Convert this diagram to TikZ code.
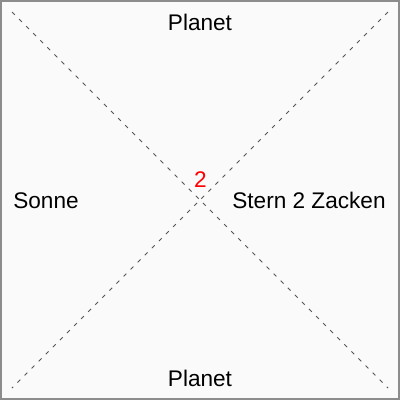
\documentclass[tikz,border=0pt]{standalone}
\usepackage{fontspec}
\setmainfont{Liberation Sans}
\definecolor{bgc}{HTML}{FAFAFA}
\definecolor{framec}{HTML}{8C8C8C}
\definecolor{dashc}{HTML}{555555}
\begin{document}
\begin{tikzpicture}[x=1pt,y=-1pt,
  lbl/.style={inner sep=0pt,anchor=base,font=\fontsize{22.6}{26}\selectfont},
  diag/.style={draw=dashc,line width=0.8pt,dash pattern=on 4pt off 6pt}]
\useasboundingbox (0,0) rectangle (400,400);
\fill[bgc] (0,0) rectangle (400,400);
\draw[framec,line width=2pt] (1,1) rectangle (399,399);
\coordinate (tl) at (12,12);
\coordinate (tr) at (388,12);
\coordinate (bl) at (12,388);
\coordinate (br) at (388,388);
\draw[diag] (tl) -- (br);
\draw[diag] (tr) -- (bl);
\node[lbl] (top) at (200,30) {Planet};
\node[lbl] (bottom) at (200,386) {Planet};
\node[lbl] (left) at (46,208) {Sonne};
\node[lbl] (right) at (309,208) {Stern 2 Zacken};
\node[lbl,text=red] (num) at (200.5,187) {2};
\end{tikzpicture}
\end{document}
